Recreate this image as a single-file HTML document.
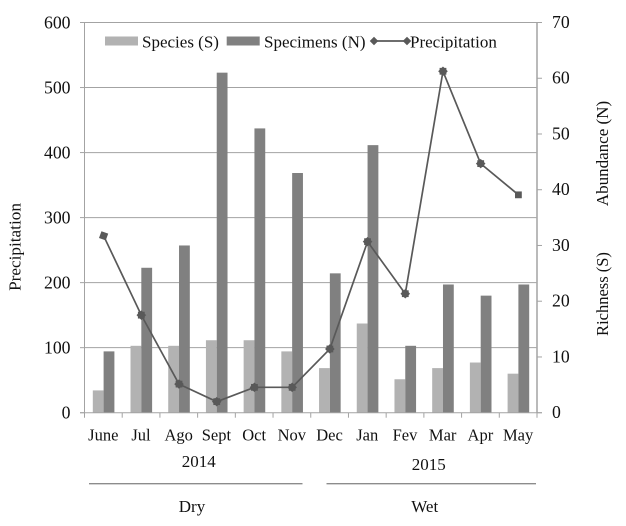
<!DOCTYPE html>
<html>
<head>
<meta charset="utf-8">
<style>
html,body{margin:0;padding:0;background:#fff;}
svg{display:block;filter:blur(0.3px);}
text{font-family:"Liberation Serif",serif;fill:#111;}
</style>
</head>
<body>
<svg id="chart" xmlns="http://www.w3.org/2000/svg" width="626" height="526" viewBox="0 0 626 526"></svg>
<script>
const categories = ["June","Jul","Ago","Sept","Oct","Nov","Dec","Jan","Fev","Mar","Apr","May"];
const speciesValues = [4,12,12,13,13,11,8,16,6,8,9,7];
const specimensValues = [11,26,30,61,51,43,25,48,12,23,21,23];
const precipitationValues = [272,150,44,17,39,39,98,263,183,525,383,335];
const leftTicks = [0,100,200,300,400,500,600];
const rightTicks = [0,10,20,30,40,50,60,70];

const NS = "http://www.w3.org/2000/svg";
const svg = document.getElementById("chart");
const plot = {left:84.5,right:537,top:22.5,bottom:412.7};
const leftMax = 600;
const rightMax = 70;
const bandWidth = (plot.right-plot.left)/categories.length;
const barWidth = 10.8;

function yLeft(v){return plot.bottom-(v/leftMax)*(plot.bottom-plot.top);}
function yRight(v){return plot.bottom-(v/rightMax)*(plot.bottom-plot.top);}
function xBand(i){return plot.left+bandWidth*i;}
function xCenter(i){return xBand(i)+bandWidth/2+0.25;}

function add(tag,attrs,text,parent){
  const el=document.createElementNS(NS,tag);
  for(const k in attrs){el.setAttribute(k,attrs[k]);}
  if(text!==undefined&&text!==null){el.textContent=text;}
  (parent||svg).appendChild(el);
  return el;
}
function label(name,x,y,str,size,anchor,rot){
  const a={x:x,y:y,"font-size":size,"text-anchor":anchor||"middle"};
  if(rot){a.transform="rotate(-90 "+x+" "+y+")";}
  const el=add("text",a,str);
  
  
  return el;
}
function line(name,x1,y1,x2,y2,color,w){
  const el=add("line",{x1:x1,y1:y1,x2:x2,y2:y2,stroke:color,"stroke-width":w});
  
  
  return el;
}
function marker(name,x,y,kind){
  const g=add("g",{transform:"translate("+x+" "+y+")"});
  
  
  const c="#595959";
  if(kind==="diamond"||kind==="both"){add("rect",{x:-3.4,y:-3.4,width:6.8,height:6.8,fill:c,transform:"rotate(45)"},null,g);}
  if(kind==="square"||kind==="both"){add("rect",{x:-3.4,y:-3.4,width:6.8,height:6.8,fill:c},null,g);}
  if(kind==="tilted"){add("rect",{x:-3.6,y:-3.6,width:7.2,height:7.2,fill:c,transform:"rotate(20)"},null,g);}
}

/* gridlines */
leftTicks.forEach(function(t){
  if(t>0){line("gridline-"+t,plot.left,yLeft(t),plot.right,yLeft(t),"#a3a3a3",1);}
});

/* bars */
categories.forEach(function(c,i){
  const cx=xCenter(i);
  const s=add("rect",{x:cx-barWidth,y:yRight(speciesValues[i]),width:barWidth,height:plot.bottom-yRight(speciesValues[i]),fill:"#b2b2b2"});
  
  
  const n=add("rect",{x:cx,y:yRight(specimensValues[i]),width:barWidth,height:plot.bottom-yRight(specimensValues[i]),fill:"#808080"});
  
  
});

/* axes */
line("left-axis",plot.left,plot.top,plot.left,plot.bottom,"#a3a3a3",1);
line("right-axis",plot.right,plot.top,plot.right,plot.bottom,"#a8a8a8",1.6);
line("x-axis",plot.left-4.5,plot.bottom,plot.right+5,plot.bottom,"#a3a3a3",1);
leftTicks.forEach(function(t){
  line("left-tick-"+t,plot.left-4.5,yLeft(t),plot.left,yLeft(t),"#a3a3a3",1);
  label("left-tick-label-"+t,70.5,yLeft(t)+6,String(t),17.7,"end");
});
rightTicks.forEach(function(t){
  line("right-tick-"+t,plot.right,yRight(t),plot.right+5,yRight(t),"#a3a3a3",1);
  label("right-tick-label-"+t,552,yRight(t)+5.5,String(t),17.7,"start");
});
line("top-border",plot.left-4.5,plot.top,plot.right+5,plot.top,"#a3a3a3",1);
categories.forEach(function(c,i){
  line("x-tick-"+i,xBand(i),plot.bottom,xBand(i),plot.bottom+5,"#a3a3a3",1);
  label("x-label-"+c.toLowerCase(),xCenter(i)-0.3,440.3,c,16.5);
});
line("x-tick-end",plot.right,plot.bottom,plot.right,plot.bottom+5,"#a3a3a3",1);

/* precipitation line */
const pts=precipitationValues.map(function(v,i){return xCenter(i)+","+yLeft(v);}).join(" ");
const pl=add("polyline",{points:pts,fill:"none",stroke:"#595959","stroke-width":1.7});


precipitationValues.forEach(function(v,i){
  const kind=i===0?"tilted":(i===categories.length-1?"square":"both");
  marker("precipitation-point-"+categories[i].toLowerCase(),xCenter(i),yLeft(v),kind);
});
</script>
<script>
/* legend and annotations */
(function(){
  const sw1=add("rect",{x:105,y:36.5,width:33,height:9,fill:"#b2b2b2"});
  
  
  label("legend-species-label",142,47.5,"Species (S)",17,"start");
  const sw2=add("rect",{x:226.7,y:36.5,width:33,height:9,fill:"#808080"});
  
  
  label("legend-specimens-label",264,47.5,"Specimens (N)",17,"start");
  line("legend-precipitation-line",374,41,407,41,"#595959",1.7);
  const d1=add("rect",{x:-3,y:-3,width:6,height:6,fill:"#595959",transform:"translate(374 41) rotate(45)"});
  
  
  const d2=add("rect",{x:-3,y:-3,width:6,height:6,fill:"#595959",transform:"translate(407 41) rotate(45)"});
  
  
  label("legend-precipitation-label",410,47.5,"Precipitation",17,"start");

  label("year-2014-label",198.7,467,"2014",17);
  label("year-2015-label",428.7,470,"2015",17);
  line("dry-season-bracket",89,483.7,302.5,483.7,"#8c8c8c",1.3);
  line("wet-season-bracket",326.5,483.7,536,483.7,"#8c8c8c",1.3);
  label("dry-season-label",192,512,"Dry",17);
  label("wet-season-label",424.7,512,"Wet",17);

  label("left-axis-title",20.5,247,"Precipitation",17.2,"middle",true);
  label("right-axis-title-abundance",608,153.5,"Abundance (N)",17,"middle",true);
  label("right-axis-title-richness",608,294,"Richness (S)",16.5,"middle",true);
})();
</script>
</body>
</html>
